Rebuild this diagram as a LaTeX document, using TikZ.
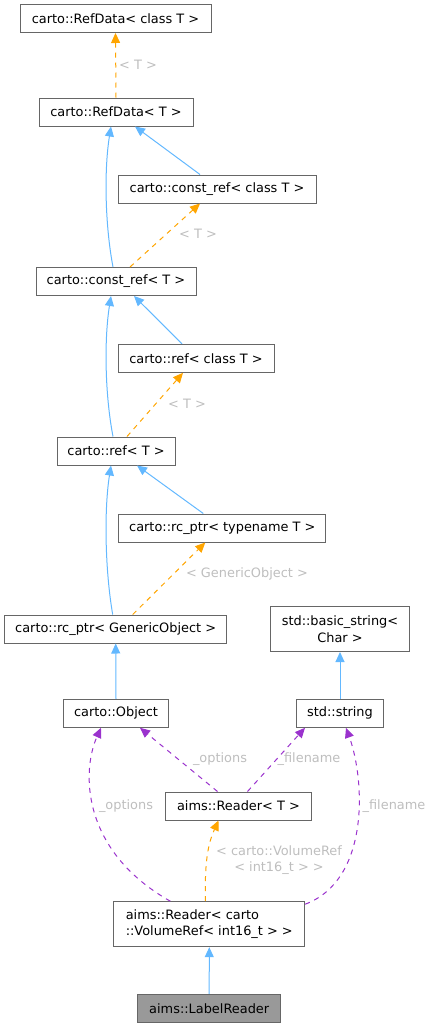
\documentclass[tikz,border=0pt]{standalone}
\usepackage{fontspec}
\setmainfont{DejaVu Sans}
\usetikzlibrary{arrows.meta}
\definecolor{edgeblue}{HTML}{63B8FF}
\definecolor{edgeorange}{HTML}{FFA500}
\definecolor{edgepurple}{HTML}{9A32CD}
\definecolor{lblgray}{HTML}{BEBEBE}
\definecolor{nodeborder}{HTML}{666666}
\definecolor{nodefill}{HTML}{999999}
\tikzset{
  box/.style={draw=nodeborder, line width=1pt, fill=white, minimum height=28, inner sep=0pt, font=\fontsize{12.9}{16.5}\selectfont},
  inh/.style={draw=edgeblue, line width=1pt, -{Triangle[length=10pt,width=9pt]}},
  tmpl/.style={draw=edgeorange, line width=1pt, dash pattern=on 5pt off 5pt, -{Triangle[length=10pt,width=9pt]}},
  usage/.style={draw=edgepurple, line width=1pt, dash pattern=on 5pt off 5pt, -{Triangle[length=10pt,width=9pt]}},
  lbl/.style={text=lblgray, inner sep=0pt, font=\fontsize{12.9}{16.5}\selectfont, align=center}
}
\begin{document}
\begin{tikzpicture}[x=1pt,y=-1pt]
\useasboundingbox (0,0) rectangle (432,1028);
% nodes
\node[box, minimum width=191] (n1) at (115.5,18.5) {carto::RefData< class T >};
\node[box, minimum width=154] (n2) at (116,112) {carto::RefData< T >};
\node[box, minimum width=198] (n3) at (217,189) {carto::const\_ref< class T >};
\node[box, minimum width=160] (n4) at (116,281.5) {carto::const\_ref< T >};
\node[box, minimum width=156] (n5) at (196,358.3) {carto::ref< class T >};
\node[box, minimum width=118] (n6) at (116,451) {carto::ref< T >};
\node[box, minimum width=207] (n7) at (222.3,528) {carto::rc\_ptr< typename T >};
\node[box, minimum width=222] (n8) at (115.7,629) {carto::rc\_ptr< GenericObject >};
\node[box, minimum width=139, minimum height=45, align=center] (n9) at (340,629) {std::basic\_string<\\Char >};
\node[box, minimum width=105] (n10) at (116,713.3) {carto::Object};
\node[box, minimum width=87] (n11) at (340,713.3) {std::string};
\node[box, minimum width=146] (n12) at (238.5,806) {aims::Reader< T >};
\node[box, minimum width=190.7, minimum height=45, align=left] (n13) at (209.3,924.2) {aims::Reader< carto\\::VolumeRef< int16\_t > >};
\node[box, minimum width=143, fill=nodefill] (n14) at (209.2,1008.3) {aims::LabelReader};
% edges
\draw[tmpl] (n2.north) -- (n1.south);
\node[lbl] (l1) at (138,65) {< T >};
\draw[inh] ([xshift=-3pt]n4.north) .. controls (105,225) and (104,170) .. ([xshift=-5pt]n2.south);
\draw[inh] ([xshift=-17pt]n3.north) -- ([xshift=19pt]n2.south);
\draw[tmpl] ([xshift=14pt]n4.north) -- ([xshift=-17pt]n3.south);
\node[lbl] (l2) at (198,234) {< T >};
\draw[inh] ([xshift=-3pt]n6.north) .. controls (105,395) and (104,340) .. ([xshift=-5pt]n4.south);
\draw[inh] ([xshift=-14pt]n5.north) -- ([xshift=18pt]n4.south);
\draw[tmpl] ([xshift=11pt]n6.north) -- ([xshift=-13pt]n5.south);
\node[lbl] (l3) at (187,404) {< T >};
\draw[inh] ([xshift=-3pt]n8.north) .. controls (105,570) and (104,510) .. ([xshift=-5pt]n6.south);
\draw[inh] ([xshift=-19pt]n7.north) -- ([xshift=21pt]n6.south);
\draw[tmpl] ([xshift=17pt]n8.north) -- ([xshift=-17pt]n7.south);
\node[lbl] (l4) at (247,574) {< GenericObject >};
\draw[inh] (n10.north) -- (n8.south);
\draw[inh] (n11.north) -- (n9.south);
\draw[usage] ([xshift=-21pt]n12.north) -- ([xshift=24pt]n10.south);
\node[lbl] (l5) at (220,759) {\_options};
\draw[usage] ([xshift=9pt]n12.north) -- ([xshift=-35pt]n11.south);
\node[lbl] (l6) at (309,759) {\_filename};
\draw[usage] ([xshift=-39pt]n13.north) .. controls (80,850) and (82,770) .. ([xshift=-15pt]n10.south);
\node[lbl] (l7) at (126,806) {\_options};
\draw[usage] ([yshift=-3pt]n13.north east) .. controls (370,880) and (365,780) .. ([xshift=6pt]n11.south);
\node[lbl] (l8) at (394,806) {\_filename};
\draw[tmpl] ([xshift=-4pt]n13.north) .. controls (205,870) and (206,848) .. ([xshift=-20pt]n12.south);
\node[lbl] (l9) at (279,860) {< carto::VolumeRef\\< int16\_t > >};
\draw[inh] (n14.north) -- (n13.south);
\end{tikzpicture}
\end{document}
